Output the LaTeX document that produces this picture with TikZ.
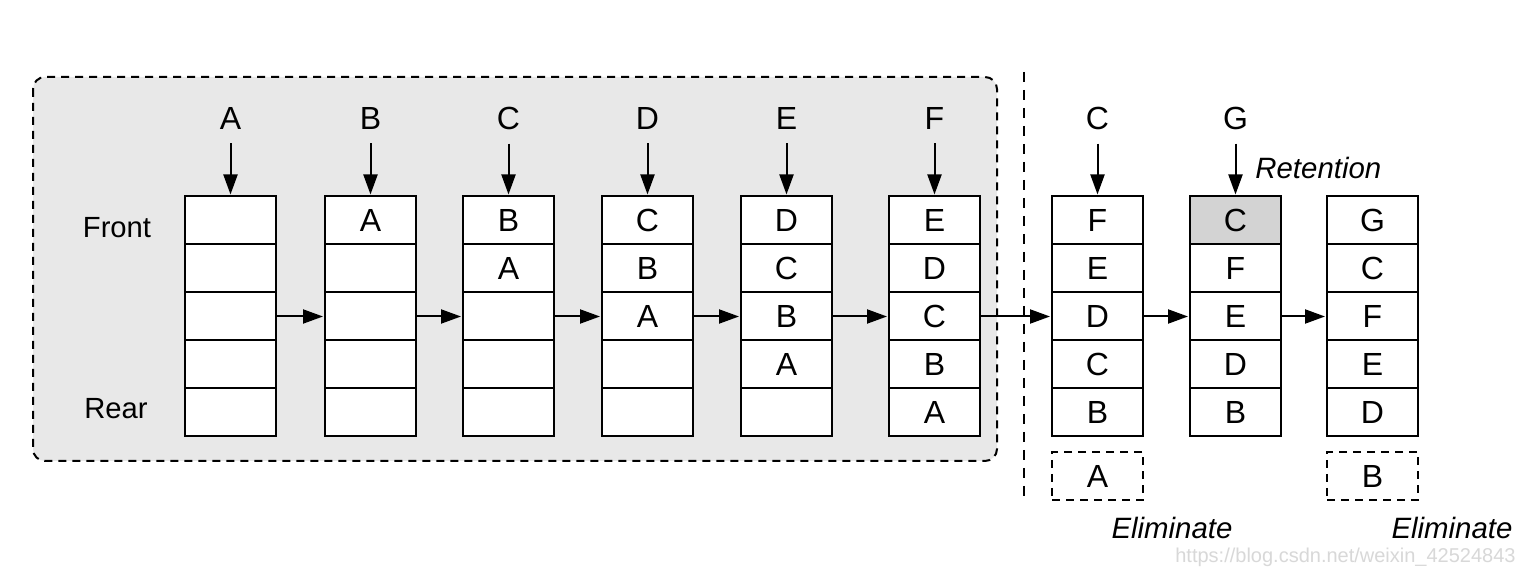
\documentclass[tikz,border=0pt]{standalone}
\usepackage{fontspec}
\setmainfont{Liberation Sans}
\usetikzlibrary{arrows.meta}
\definecolor{panelgray}{HTML}{E8E8E8}
\definecolor{hlgray}{HTML}{D3D3D3}
\definecolor{wmgray}{HTML}{D8D8D8}
\tikzset{
  cell/.style={draw=black, line width=1pt, fill=white, minimum width=45.5pt, minimum height=24pt, inner sep=0pt, outer sep=0pt, font=\fontsize{16}{19}\selectfont},
  ghost/.style={cell, fill=none, dashed, dash pattern=on 4pt off 3pt},
  toplabel/.style={inner sep=0pt, font=\fontsize{16}{19}\selectfont},
  sidelabel/.style={inner sep=0pt, font=\fontsize{14.6}{17}\selectfont},
  note/.style={inner sep=0pt, font=\fontsize{14.7}{17}\selectfont\itshape},
  arr/.style={line width=1pt, -{Triangle[length=10pt,width=7pt]}},
}
\begin{document}
\begin{tikzpicture}[x=0.5pt,y=-0.5pt]
\useasboundingbox (0,0) rectangle (1526,576);
\fill[white] (0,0) rectangle (1526,576);
% panel
\draw[fill=panelgray, line width=1pt, dash pattern=on 4pt off 3pt, rounded corners=6pt] (33,77) rectangle (997,461);
% separator
\draw[line width=0.8pt, dash pattern=on 5pt off 4pt] (1024,72) -- (1024,500);
% columns
\foreach \i/\xl/\lab/\a/\b/\c/\d/\e in {
  1/185/A/{}/{}/{}/{}/{},
  2/325/B/A/{}/{}/{}/{},
  3/463/C/B/A/{}/{}/{},
  4/602/D/C/B/A/{}/{},
  5/741/E/D/C/B/A/{},
  6/889/F/E/D/C/B/A,
  7/1052/C/F/E/D/C/B,
  8/1190/G/C/F/E/D/B,
  9/1327/{}/G/C/F/E/D}{
  \node[cell] (c\i-1) at (\xl+45.5,220.5) {\a};
  \node[cell] (c\i-2) at (\xl+45.5,268.5) {\b};
  \node[cell] (c\i-3) at (\xl+45.5,316.5) {\c};
  \node[cell] (c\i-4) at (\xl+45.5,364.5) {\d};
  \node[cell] (c\i-5) at (\xl+45.5,412.5) {\e};
  \node[toplabel] (t\i) at (\xl+45.5,118) {\lab};
}
\node[cell, fill=hlgray] at (c8-1) {C};
% top arrows
\foreach \i in {1,...,8}{
  \draw[arr, shorten <=7pt, shorten >=1pt] (t\i.south) -- (c\i-1.north);
}
% chain arrows
\foreach \i [evaluate=\i as \j using int(\i+1)] in {1,...,8}{
  \draw[arr, shorten >=1pt] (c\i-3.east) -- (c\j-3.west);
}
% evicted
\node[ghost] (g7) at (1052+45.5,476) {A};
\node[ghost] (g9) at (1327+45.5,476) {B};
% side labels
\node[sidelabel] (front) at (117,228) {Front};
\node[sidelabel] (rear) at (116,409) {Rear};
\node[note, anchor=west] (ret) at (1255,168) {Retention};
\node[note] (el1) at (1172,528) {Eliminate};
\node[note] (el2) at (1452,528) {Eliminate};
\node[inner sep=0pt, text=wmgray, font=\fontsize{10}{12}\selectfont, anchor=east] (wm) at (1516,557) {https://blog.csdn.net/weixin\_42524843};
\end{tikzpicture}
\end{document}
